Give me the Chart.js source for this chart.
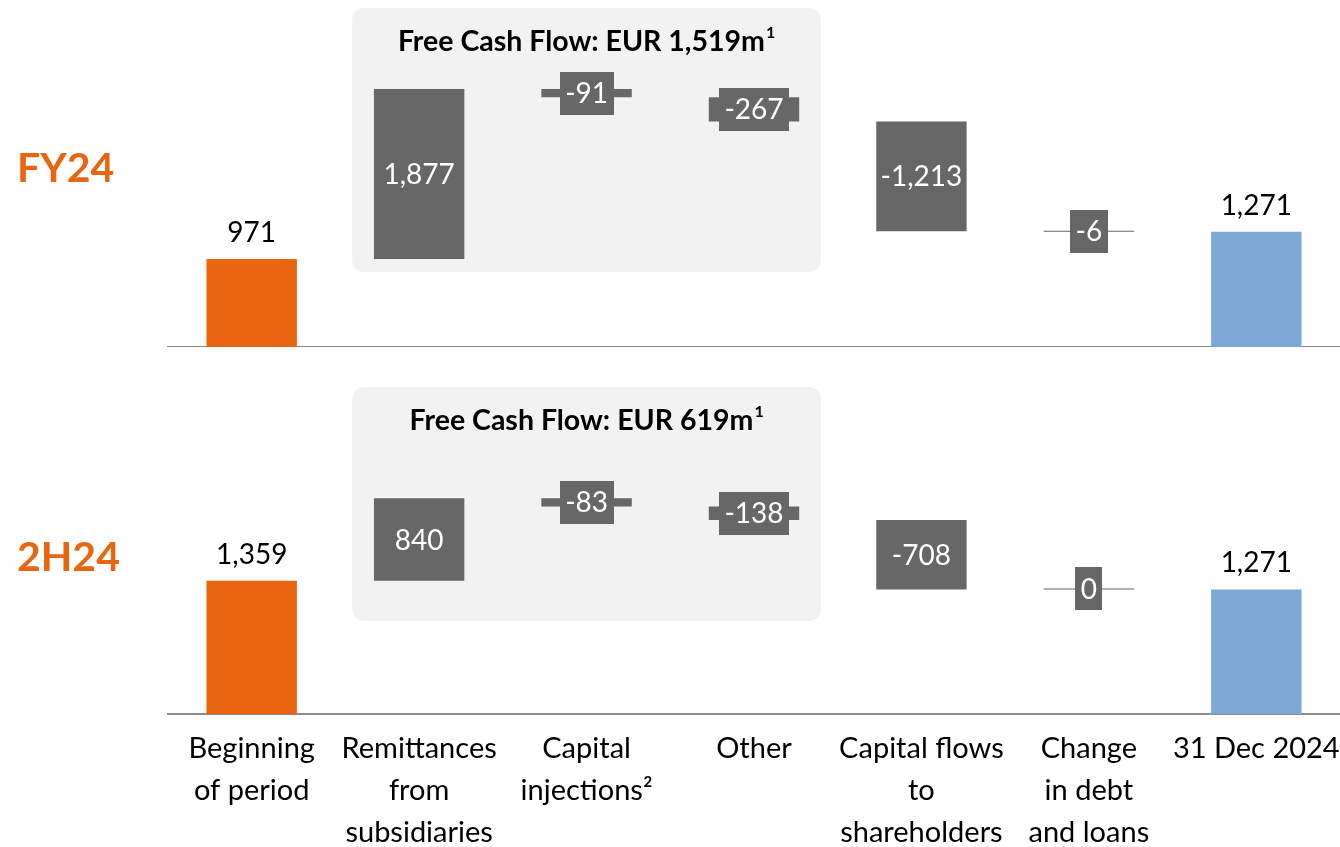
<!DOCTYPE html>
<html><head><meta charset="utf-8">
<script src="https://cdn.jsdelivr.net/npm/chart.js@4"></script>
<style>
html,body{margin:0;padding:0;background:#fff;width:1340px;height:847px;overflow:hidden}
#c1{position:absolute;left:0;top:0}
#c2{position:absolute;left:0;top:360px}
</style></head><body>
<canvas id="c1" width="1340" height="347"></canvas>
<canvas id="c2" width="1340" height="508"></canvas>
<script>
const categories = [["Beginning","of period"],["Remittances","from","subsidiaries"],["Capital","injections²"],["Other"],["Capital flows","to","shareholders"],["Change","in debt","and loans"],["31 Dec 2024"]];
const periods = ["FY24","2H24"];
const fyStart = 971;
const fyChanges = [1877, -91, -267, -1213, -6];
const fyEnd = 1271;
const h2Start = 1359;
const h2Changes = [840, -83, -138, -708, 0];
const h2End = 1271;
const fcfTitles = ["Free Cash Flow: EUR 1,519m", "Free Cash Flow: EUR 619m"];

const FONT = 'Lato, "Open Sans", sans-serif';
const ORANGE = '#E9650F', GREY = '#676767', BLUE = '#7BA8D5';

function ranges(start, changes, end){
  const out=[[0,start]]; let run=start;
  changes.forEach(c=>{out.push([run, run+c]); run+=c;});
  out.push([0,end]);
  return out;
}
function colors(n){ const a=[ORANGE]; for(let i=0;i<n;i++) a.push(GREY); a.push(BLUE); return a; }

const wfPlugin = {
  id:'wf',
  beforeDatasetsDraw(chart, args, o){
    const ctx=chart.ctx, xs=chart.scales.x;
    const cw = xs.getPixelForValue(1)-xs.getPixelForValue(0);
    const x0 = xs.getPixelForValue(1)-0.40*cw, x1 = xs.getPixelForValue(3)+0.40*cw;
    const y0 = o.boxTop, y1 = o.boxBottom;
    ctx.save();
    ctx.fillStyle='#F2F2F2';
    ctx.beginPath(); ctx.roundRect(x0,y0,x1-x0,y1-y0,12); ctx.fill();
    const tf='bold 28.5px '+FONT, sf='bold 16px '+FONT;
    ctx.font=tf; ctx.fillStyle='#000'; ctx.textBaseline='alphabetic';
    const tw=ctx.measureText(o.title).width;
    ctx.font=sf; const sw=ctx.measureText('1').width;
    const cx=(x0+x1)/2, left=cx-(tw+sw+1)/2;
    ctx.font=tf; ctx.textAlign='left';
    ctx.fillText(o.title,left,y0+43);
    ctx.font=sf; ctx.fillText('1',left+tw+1,y0+30);
    ctx.font='bold 41px '+FONT; ctx.fillStyle=ORANGE; ctx.textAlign='left'; ctx.textBaseline='middle';
    ctx.fillText(o.period,17,o.periodY);
    ctx.restore();
  },
  afterDatasetsDraw(chart, args, o){
    const ctx=chart.ctx; const meta=chart.getDatasetMeta(0);
    ctx.save();
    ctx.font='28px '+FONT; ctx.textAlign='center';
    const n=meta.data.length;
    meta.data.forEach((bar,i)=>{
      const v=o.values[i];
      const txt=v.toLocaleString('en-US');
      if(i===0||i===n-1){
        ctx.fillStyle='#000'; ctx.textBaseline='alphabetic';
        ctx.fillText(txt,bar.x,Math.min(bar.y,bar.base)-17);
      } else {
        const cy=(bar.y+bar.base)/2;
        const h=43;
        if(Math.abs(bar.base-bar.y) < h){
          const w=ctx.measureText(txt).width+11;
          ctx.fillStyle=GREY;
          ctx.fillRect(Math.round(bar.x-w/2),Math.round(cy-h/2),Math.round(w),h);
        }
        ctx.fillStyle='#fff'; ctx.textBaseline='middle';
        ctx.fillText(txt,bar.x,cy+1);
      }
    });
    ctx.restore();
  }
};

function makeChart(id, start, changes, end, opts){
  return new Chart(document.getElementById(id), {
    type:'bar',
    data:{labels:categories, datasets:[{data:ranges(start,changes,end), backgroundColor:colors(changes.length),
      borderColor:colors(changes.length), borderWidth:0,
      barPercentage:0.54, categoryPercentage:1, minBarLength:1, borderSkipped:false}]},
    options:{responsive:false, animation:false, devicePixelRatio:1,
      layout:{padding:{left:168,right:0,top:0,bottom:0}},
      plugins:{legend:{display:false}, tooltip:{enabled:false},
        wf:Object.assign({values:[start,...changes,end]}, opts)},
      scales:{
        x:{grid:{display:false,drawTicks:false}, border:{display:true,color:'#8C8C8C',width:2},
           afterFit(s){ s.paddingLeft=0; s.paddingRight=0; },
           ticks:{display:opts.showTicks, color:'#000', font:{family:FONT,size:29,lineHeight:1.448}, padding:14, maxRotation:0, autoSkip:false}},
        y:{display:false, min:0, max:opts.max}
      }},
    plugins:[wfPlugin]
  });
}
makeChart('c1', fyStart, fyChanges, fyEnd, {title:fcfTitles[0], period:periods[0], periodY:169, boxTop:8, boxBottom:272, max:3830, showTicks:false});
makeChart('c2', h2Start, h2Changes, h2End, {title:fcfTitles[1], period:periods[1], periodY:198, boxTop:27, boxBottom:261, max:3610, showTicks:true});
</script>
</body></html>
